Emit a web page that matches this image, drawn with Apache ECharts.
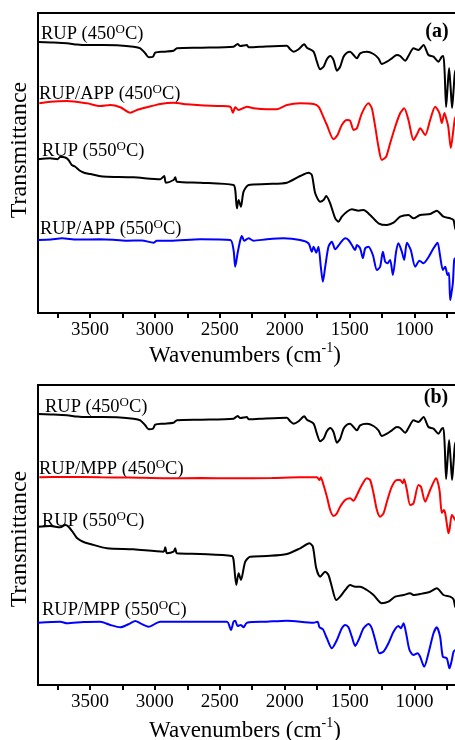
<!DOCTYPE html>
<html>
<head>
<meta charset="utf-8">
<script src="https://cdn.jsdelivr.net/npm/echarts@6/dist/echarts.min.js"></script>
<style>
html,body{margin:0;padding:0;background:#fff;overflow:hidden;}
#chart{width:455px;height:740px;}
</style>
</head>
<body>
<div id="chart"></div>
<script>
// x: wavenumber (cm-1), y: transmittance in stacked (offset) plot units 0..300
var xTickLabels = [3500, 3000, 2500, 2000, 1500, 1000];
var xMinorTicks = [3750, 3500, 3250, 3000, 2750, 2500, 2250, 2000, 1750, 1500, 1250, 1000, 750];

var rup450 = [[3900,271],[3800,270.5],[3677,269.7],[3600,268.5],[3523,268],[3400,268],[3292,267.7],[3164,266.3],[3112,264.7],[3074,259.7],[3048,255.7],[3015,256.3],[2997,260.3],[2933,261.3],[2856,262.3],[2830,264.7],[2650,265.3],[2394,266.3],[2363,269],[2342,267],[2291,268],[2278,265.7],[2189,266.3],[1983,267.3],[1958,263.7],[1932,261.3],[1893,263.7],[1850,268.7],[1829,265.3],[1778,261.3],[1752,251.3],[1727,243.7],[1701,246.3],[1675,253.7],[1650,257],[1624,253],[1598,242.3],[1573,246.3],[1547,256.3],[1521,260.3],[1496,261.3],[1470,258],[1444,254.7],[1419,259.7],[1367,261.3],[1316,259],[1278,254.7],[1252,249],[1213,251.3],[1175,254.7],[1136,258],[1111,257],[1072,252.3],[1047,257],[1008,264.7],[970,263],[931,268],[893,258],[854,256.3],[816,251.3],[790,256.3],[778,257],[768,240],[757,206],[746,225],[734,245],[722,225],[711,205],[700,222],[688,241],[670,245]];

var rupApp450 = [[3890,209.7],[3805,211.3],[3677,212],[3523,209.7],[3420,207],[3343,208],[3266,205.7],[3189,200.3],[3138,203],[3061,205.7],[2958,209],[2856,210.3],[2753,208.7],[2650,207.7],[2496,207],[2419,206.3],[2399,200.3],[2381,205.7],[2355,203],[2291,206.3],[2240,204.7],[2137,203.7],[2060,203.7],[1983,208],[1881,209.7],[1778,209],[1740,206.3],[1714,199.7],[1675,188],[1624,173.7],[1593,178],[1560,188],[1521,193],[1496,192.3],[1470,183],[1444,184.7],[1406,199.7],[1355,209.7],[1329,204.7],[1303,186.3],[1278,166.3],[1252,153],[1219,156.3],[1188,169.7],[1149,186.3],[1111,199.7],[1080,204.7],[1047,193],[1008,173],[977,179.7],[957,184.7],[918,178],[880,193],[841,206.3],[808,199.7],[790,190],[770,200],[755,194],[740,186],[721,165],[701,183],[688,195],[670,198]];

var rup550a = [[3900,153.7],[3805,154.7],[3750,153.7],[3728,156.3],[3690,155.5],[3665,153],[3640,148],[3613,146.3],[3580,142.5],[3540,140],[3497,139],[3430,137],[3369,136.3],[3164,135.7],[2958,133.7],[2928,137],[2915,130.3],[2856,133],[2843,135.7],[2830,131.3],[2650,130.3],[2394,128],[2381,123],[2368,104.7],[2355,113],[2337,106.3],[2317,121.3],[2278,128],[2137,129],[1983,130.3],[1881,137],[1817,140.3],[1791,138],[1765,119.7],[1727,111.3],[1701,113],[1680,117],[1650,109.7],[1611,94.7],[1586,91.3],[1560,96.3],[1521,101.3],[1483,103.7],[1431,102.3],[1393,103],[1342,98],[1278,89.7],[1213,88],[1162,90.3],[1111,96.3],[1047,98],[1008,94.7],[957,98],[880,99],[829,102.3],[777,96.3],[726,94.7],[700,93],[687,84.7],[670,82]];

var rupApp550 = [[3900,73],[3800,73.5],[3715,74.7],[3600,73.5],[3420,73.7],[3300,73],[3215,72.3],[3100,72.5],[3010,70.3],[2985,72.3],[2881,72.3],[2650,73.7],[2419,73],[2394,63],[2381,46.3],[2363,59.7],[2342,73],[2330,77],[2312,72.3],[2278,74.7],[2240,72.3],[2137,73.7],[2009,74.7],[1881,73],[1817,69.7],[1791,61.3],[1778,66.3],[1757,60.3],[1740,66.3],[1722,46.3],[1706,31.3],[1688,46.3],[1663,66.3],[1637,71.3],[1611,63.7],[1573,69.7],[1534,74.7],[1509,73],[1483,68],[1457,63],[1444,68],[1419,64.7],[1398,54.7],[1380,64.7],[1355,66.3],[1321,58],[1290,43],[1265,46.3],[1244,61.3],[1226,51.3],[1208,49.7],[1188,53],[1167,38],[1142,61.3],[1124,69.7],[1098,61.3],[1080,53],[1059,70.3],[1029,63],[995,46.3],[962,52.3],[931,49.7],[893,55.7],[854,64.7],[823,70.3],[803,56.7],[782,43],[764,46.3],[746,38],[735,40],[726,13],[718,18],[705,30],[695,53],[687,54.7],[670,56]];

var rupMpp450 = [[3890,207.7],[3700,208],[3420,207.7],[3200,207.5],[2907,206.7],[2650,207],[2394,206.7],[2100,207],[1881,207.7],[1752,207.7],[1732,205],[1722,207.7],[1701,200],[1675,188.3],[1650,175],[1624,169],[1598,171.7],[1573,178.3],[1534,185],[1496,186.7],[1470,184.3],[1444,190],[1406,200],[1367,206.7],[1342,205],[1316,191.7],[1290,175],[1265,168.3],[1239,171.7],[1213,183.3],[1175,198.3],[1136,205],[1111,205],[1090,201.7],[1080,205.7],[1059,195],[1034,180],[1008,181.7],[970,200],[951,198.3],[918,183.3],[880,195],[834,206.7],[808,195],[790,172],[775,175],[764,171.7],[750,160],[739,151.7],[730,156],[713,170],[700,168],[687,165],[670,165]];

var rup550b = [[3900,158.3],[3805,159],[3728,157.7],[3690,160],[3665,158.3],[3625,151.7],[3600,147],[3549,143],[3497,141],[3369,136.7],[3164,135.7],[2933,133.3],[2920,137.7],[2907,131.7],[2856,133.3],[2843,136.7],[2830,131.7],[2650,131],[2407,129],[2394,125],[2373,100],[2355,111.7],[2337,105],[2304,123.3],[2266,128.3],[2137,129],[1983,131],[1881,136.7],[1809,141.7],[1783,138.3],[1757,116.7],[1727,108.3],[1688,113.3],[1663,110],[1637,98.3],[1603,85],[1573,88.3],[1534,95],[1496,100],[1457,98.3],[1419,98.3],[1367,95],[1316,90],[1252,81.7],[1201,83.3],[1149,88.3],[1085,90],[1034,91.7],[1008,90],[957,91],[880,93.3],[829,96.7],[777,90],[726,88.3],[700,85.7],[687,78.3],[670,76]];

var rupMpp550 = [[3900,62.3],[3728,63.3],[3677,61.7],[3550,63],[3420,63.3],[3343,60],[3266,57.7],[3189,61.7],[3151,64],[3112,61.7],[3048,58.3],[2958,63.3],[2779,63.3],[2445,63.3],[2414,55],[2394,63.3],[2381,64.3],[2363,59],[2337,60],[2317,57.7],[2291,62.3],[2137,63.3],[1983,64.3],[1778,62.3],[1747,63.3],[1732,57.7],[1706,55.7],[1675,46.7],[1637,36.7],[1598,45],[1560,56.7],[1534,60],[1509,57.7],[1483,48.3],[1457,39],[1431,45],[1393,56.7],[1355,61],[1329,56.7],[1303,45],[1270,31.7],[1239,33.3],[1201,41.7],[1162,53.3],[1124,59],[1106,56.7],[1085,61.7],[1065,51.7],[1039,35],[1008,30],[977,31.7],[957,28.3],[926,18.3],[893,31.7],[854,51.7],[829,57.7],[803,48.3],[782,28.3],[752,26.7],[731,16.7],[713,25],[700,33.3],[687,35],[670,36]];

var seriesNames = ['RUP (450', 'RUP/APP (450', 'RUP (550', 'RUP/APP (550', 'RUP (450', 'RUP/MPP (450', 'RUP (550', 'RUP/MPP (550'];

var FONT = '"Liberation Serif", "Times New Roman", serif';
var chart = echarts.init(document.getElementById('chart'), null, {renderer: 'canvas'});

function xAxisCfg(gi) {
  return {
    type: 'value', gridIndex: gi, min: 650, max: 3900, inverse: true,
    axisLine: {show: true, lineStyle: {color: '#000', width: 2}},
    axisTick: {show: true, inside: false, length: 5, customValues: xMinorTicks, lineStyle: {color: '#000', width: 2}},
    axisLabel: {show: true, customValues: xTickLabels, margin: 8, color: '#000', fontSize: 19, fontFamily: FONT,
      formatter: function (v) { return String(v); }},
    splitLine: {show: false}
  };
}
function yAxisCfg(gi) {
  return {
    type: 'value', gridIndex: gi, min: 0, max: 300,
    axisLine: {show: true, lineStyle: {color: '#000', width: 2}},
    axisTick: {show: false}, axisLabel: {show: false}, splitLine: {show: false}
  };
}
function line(data, color, gi) {
  return {
    type: 'line', data: data, xAxisIndex: gi, yAxisIndex: gi,
    showSymbol: false, smooth: 0.25, animation: false,
    lineStyle: {color: color, width: 2}, itemStyle: {color: color}
  };
}
var richLabel = {
  n: {fontSize: 18.5, fontFamily: FONT, color: '#000', lineHeight: 21, verticalAlign: 'bottom'},
  s: {fontSize: 13, fontFamily: FONT, color: '#000', lineHeight: 13, verticalAlign: 'top'}
};
function seriesLabel(text, x, baseline) {
  return {
    type: 'text', left: x, top: baseline - 17,
    style: {text: '{n|' + text + '}{s|O}{n|C)}', rich: richLabel, fill: '#000'}
  };
}
var labelPos = [[41, 40], [39, 100], [42, 157], [40, 235], [45, 413], [39, 475], [42, 527], [42, 616]];

var graphics = [];
for (var i = 0; i < seriesNames.length; i++) {
  graphics.push(seriesLabel(seriesNames[i], labelPos[i][0], labelPos[i][1]));
}
function ytitle(cy) {
  return {type: 'text', x: 20, y: cy, rotation: Math.PI / 2,
    style: {text: 'Transmittance', fontSize: 24, fontFamily: FONT, fill: '#000', align: 'center', verticalAlign: 'middle'}};
}
function xtitle(baseline) {
  return {type: 'text', x: 245, y: baseline + 5,
    style: {text: '{t|Wavenumbers (cm}{u|-1}{t|)}', align: 'center', verticalAlign: 'bottom',
      rich: {t: {fontSize: 23, fontFamily: FONT, color: '#000', lineHeight: 26, verticalAlign: 'bottom'},
             u: {fontSize: 14, fontFamily: FONT, color: '#000', lineHeight: 15, verticalAlign: 'top'}}}};
}
graphics.push(ytitle(150), ytitle(539), xtitle(362), xtitle(737));
graphics.push({type: 'text', x: 437, y: 32, style: {text: '(a)', fontSize: 20, fontWeight: 'bold', fontFamily: FONT, fill: '#000', align: 'center', verticalAlign: 'middle'}});
graphics.push({type: 'text', x: 436, y: 398, style: {text: '(b)', fontSize: 20, fontWeight: 'bold', fontFamily: FONT, fill: '#000', align: 'center', verticalAlign: 'middle'}});

chart.setOption({
  animation: false,
  backgroundColor: '#fff',
  grid: [
    {left: 38, top: 13, width: 422, height: 300, show: true, borderColor: '#000', borderWidth: 2, backgroundColor: 'transparent', containLabel: false, outerBoundsMode: 'none'},
    {left: 38, top: 385, width: 422, height: 300, show: true, borderColor: '#000', borderWidth: 2, backgroundColor: 'transparent', containLabel: false, outerBoundsMode: 'none'}
  ],
  xAxis: [xAxisCfg(0), xAxisCfg(1)],
  yAxis: [yAxisCfg(0), yAxisCfg(1)],
  series: [
    line(rup450, '#000000', 0),
    line(rupApp450, '#ff0000', 0),
    line(rup550a, '#000000', 0),
    line(rupApp550, '#0000ff', 0),
    line(rup450, '#000000', 1),
    line(rupMpp450, '#ff0000', 1),
    line(rup550b, '#000000', 1),
    line(rupMpp550, '#0000ff', 1)
  ],
  graphic: graphics
});
</script>
</body>
</html>
